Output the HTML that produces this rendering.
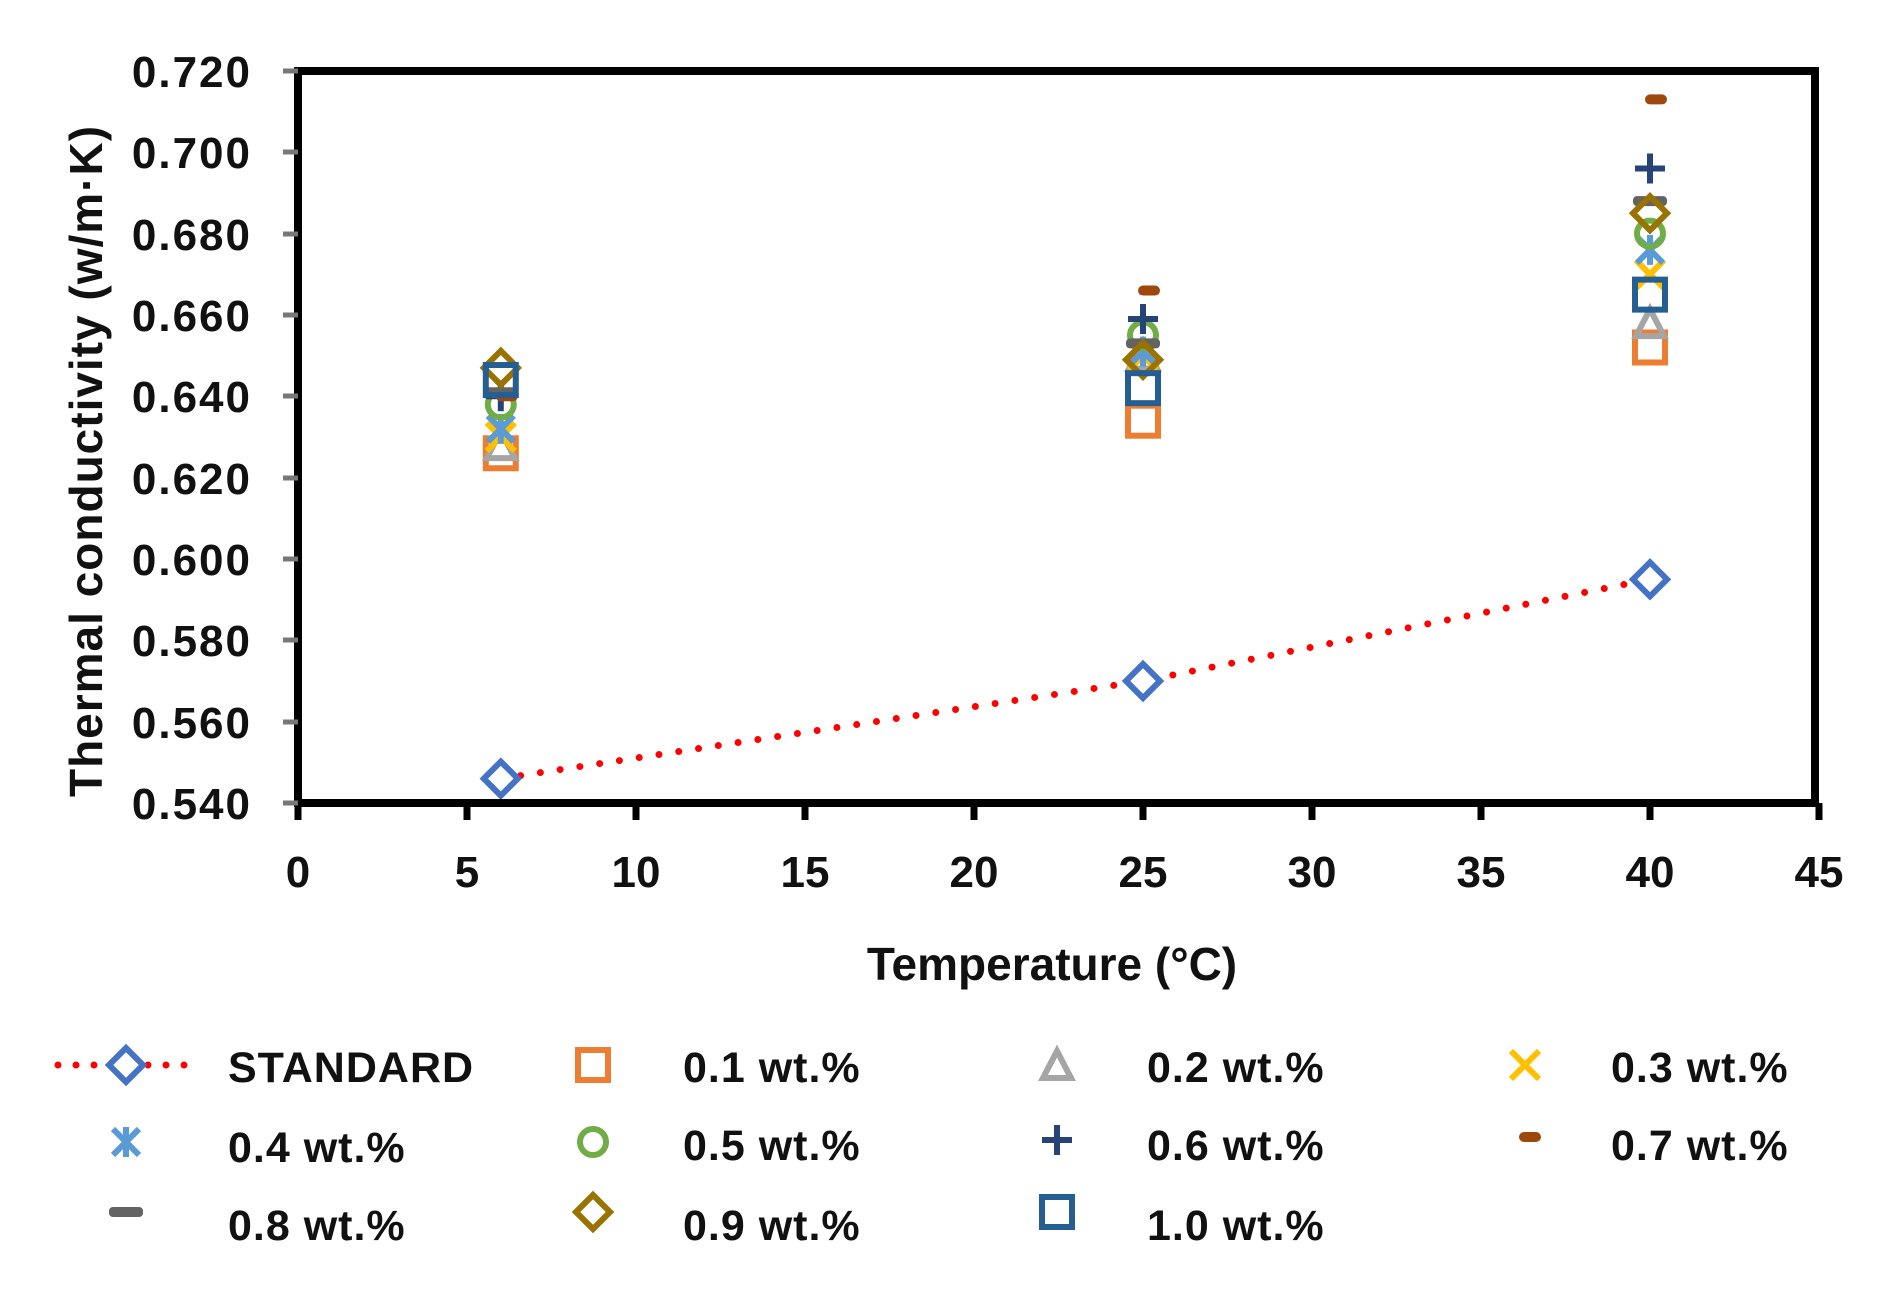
<!DOCTYPE html>
<html><head><meta charset="utf-8"><style>
html,body{margin:0;padding:0;background:#fff;}
svg{display:block;}
text{font-family:"Liberation Sans",sans-serif;}
</style></head><body>
<svg id="s" width="1878" height="1314" viewBox="0 0 1878 1314" xmlns="http://www.w3.org/2000/svg">
<rect width="1878" height="1314" fill="#fff"/>
<g id="plot"></g>
<rect x="298" y="71" width="1517" height="732" fill="none" stroke="#000" stroke-width="8"/>
<g stroke="#000" stroke-width="7">
<line x1="298" y1="803" x2="298" y2="820"/><line x1="467" y1="803" x2="467" y2="820"/><line x1="636" y1="803" x2="636" y2="820"/><line x1="805" y1="803" x2="805" y2="820"/><line x1="974" y1="803" x2="974" y2="820"/><line x1="1143" y1="803" x2="1143" y2="820"/><line x1="1312" y1="803" x2="1312" y2="820"/><line x1="1481" y1="803" x2="1481" y2="820"/><line x1="1650" y1="803" x2="1650" y2="820"/><line x1="1819" y1="803" x2="1819" y2="820"/>
</g>
<g stroke="#777" stroke-width="5">
<line x1="283" y1="71" x2="298" y2="71"/><line x1="283" y1="152" x2="298" y2="152"/><line x1="283" y1="234" x2="298" y2="234"/><line x1="283" y1="315" x2="298" y2="315"/><line x1="283" y1="396" x2="298" y2="396"/><line x1="283" y1="478" x2="298" y2="478"/><line x1="283" y1="559" x2="298" y2="559"/><line x1="283" y1="640" x2="298" y2="640"/><line x1="283" y1="722" x2="298" y2="722"/><line x1="283" y1="803" x2="298" y2="803"/>
</g>
<g font-size="44" font-weight="bold" text-anchor="end" fill="#111" letter-spacing="2">
<text x="252" y="87">0.720</text><text x="252" y="168">0.700</text><text x="252" y="250">0.680</text><text x="252" y="331">0.660</text><text x="252" y="412">0.640</text><text x="252" y="494">0.620</text><text x="252" y="575">0.600</text><text x="252" y="656">0.580</text><text x="252" y="738">0.560</text><text x="252" y="819">0.540</text>
</g>
<g font-size="44" font-weight="bold" text-anchor="middle" fill="#111">
<text x="298" y="887">0</text><text x="467" y="887">5</text><text x="636" y="887">10</text><text x="805" y="887">15</text><text x="974" y="887">20</text><text x="1143" y="887">25</text><text x="1312" y="887">30</text><text x="1481" y="887">35</text><text x="1650" y="887">40</text><text x="1819" y="887">45</text>
</g>
<text x="1052" y="980" font-size="46" font-weight="bold" text-anchor="middle" fill="#111">Temperature (°C)</text>
<text transform="translate(102,461) rotate(-90)" font-size="46" font-weight="bold" text-anchor="middle" fill="#111" letter-spacing="1">Thermal conductivity (w/m·K)</text>
<g id="leg"></g>
<g font-size="43" font-weight="bold" fill="#111" letter-spacing="1">
<text x="228" y="1082">STANDARD</text><text x="683" y="1082">0.1 wt.%</text><text x="1147" y="1082">0.2 wt.%</text><text x="1611" y="1082">0.3 wt.%</text>
<text x="228" y="1162">0.4 wt.%</text><text x="683" y="1160">0.5 wt.%</text><text x="1147" y="1160">0.6 wt.%</text><text x="1611" y="1160">0.7 wt.%</text>
<text x="228" y="1240">0.8 wt.%</text><text x="683" y="1240">0.9 wt.%</text><text x="1147" y="1240">1.0 wt.%</text>
</g>
</svg>
<script>
var NS="http://www.w3.org/2000/svg";
function X(t){return 298+33.8*t;}
function Y(v){return 803-(v-0.54)*4067;}
function el(p,tag,a){var e=document.createElementNS(NS,tag);for(var k in a)e.setAttribute(k,a[k]);p.appendChild(e);return e;}
function mk(p,type,x,y,c,fill){
 var h=15,sw=6;fill=fill||'none';
 if(type=='sq')el(p,'rect',{x:x-h,y:y-h,width:2*h,height:2*h,fill:fill,stroke:c,'stroke-width':sw});
 else if(type=='di')el(p,'polygon',{points:(x)+','+(y-17)+' '+(x+17)+','+y+' '+x+','+(y+17)+' '+(x-17)+','+y,fill:fill,stroke:c,'stroke-width':sw});
 else if(type=='tr')el(p,'polygon',{points:x+','+(y-14)+' '+(x+14)+','+(y+13)+' '+(x-14)+','+(y+13),fill:'none',stroke:c,'stroke-width':sw});
 else if(type=='x'){el(p,'path',{d:'M'+(x-14)+' '+(y-14)+'L'+(x+14)+' '+(y+14)+'M'+(x+14)+' '+(y-14)+'L'+(x-14)+' '+(y+14),stroke:c,'stroke-width':sw});}
 else if(type=='ast'){el(p,'path',{d:'M'+(x-13)+' '+(y-13)+'L'+(x+13)+' '+(y+13)+'M'+(x+13)+' '+(y-13)+'L'+(x-13)+' '+(y+13)+'M'+x+' '+(y-15)+'L'+x+' '+(y+15),stroke:c,'stroke-width':sw});}
 else if(type=='ci')el(p,'circle',{cx:x,cy:y,r:13,fill:'none',stroke:c,'stroke-width':sw});
 else if(type=='pl')el(p,'path',{d:'M'+(x-15)+' '+y+'L'+(x+15)+' '+y+'M'+x+' '+(y-15)+'L'+x+' '+(y+15),stroke:c,'stroke-width':sw});
 else if(type=='dash7')el(p,'rect',{x:x-11,y:y-5,width:22,height:10,rx:5,fill:c});
 else if(type=='dash8')el(p,'rect',{x:x-17,y:y-5,width:34,height:10,rx:4,fill:c});
}
var S=[
 ['sq','#ED7D31',[0.626,0.634,0.652]],
 ['tr','#A5A5A5',[0.628,0.650,0.658]],
 ['x','#FFC000',[0.630,0.650,0.670]],
 ['ast','#5B9BD5',[0.632,0.651,0.676]],
 ['ci','#70AD47',[0.638,0.655,0.680]],
 ['pl','#264478',[0.640,0.659,0.696]],
 ['dash7','#9E480E',[0.640,0.666,0.713]],
 ['dash8','#636363',[0.641,0.653,0.688]],
 ['di','#997300',[0.647,0.649,0.685]],
 ['sq','#255E91',[0.644,0.642,0.665]]
];
var T=[6,25,40],g=document.getElementById('plot');
el(g,'polyline',{points:X(6)+','+Y(0.546)+' '+X(25)+','+Y(0.570)+' '+X(40)+','+Y(0.595),fill:'none',stroke:'#FF0000','stroke-width':7,'stroke-dasharray':'0 20','stroke-linecap':'round'});
[0.546,0.570,0.595].forEach(function(v,i){mk(g,'di',X(T[i]),Y(v),'#4472C4','#fff');});
S.forEach(function(s){s[2].forEach(function(v,i){var dx=(s[0]=='dash7')?6:0;mk(g,s[0],X(T[i])+dx,Y(v),s[1]);});});
var L=document.getElementById('leg');
el(L,'line',{x1:58,y1:1065,x2:186,y2:1065,stroke:'#FF0000','stroke-width':7,'stroke-dasharray':'0 18','stroke-linecap':'round'});
mk(L,'di',126,1065,'#4472C4','#fff');
var pos=[[593,1065],[1057,1065],[1525,1065],[126,1142],[593,1142],[1057,1140],[1530,1137],[126,1212],[593,1212],[1057,1212]];
S.forEach(function(s,i){mk(L,s[0],pos[i][0],pos[i][1],s[1]);});
</script>
</body></html>
